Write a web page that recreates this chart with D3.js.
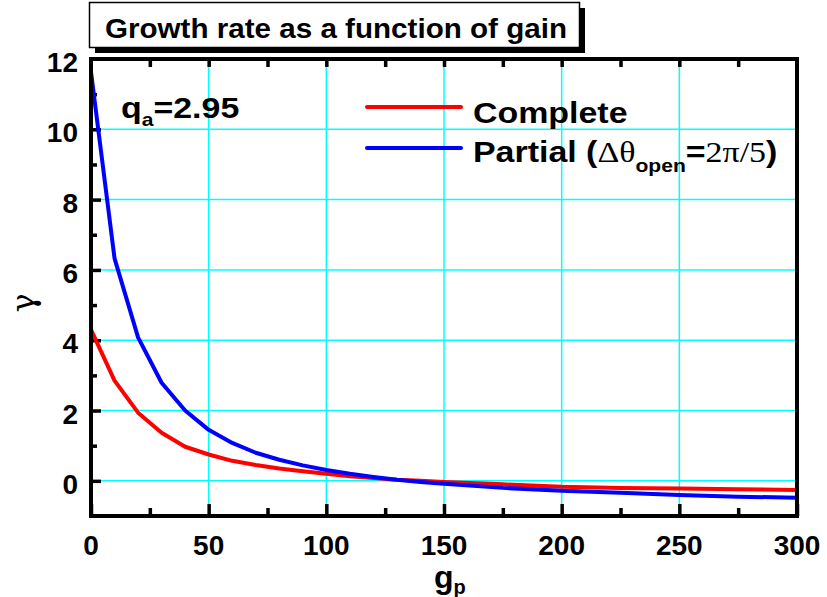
<!DOCTYPE html>
<html>
<head>
<meta charset="utf-8">
<script src="https://cdn.jsdelivr.net/npm/d3@7"></script>
<style>
  body { margin: 0; background: #fff; }
  text { font-family: "Liberation Sans", Arial, sans-serif; font-weight: bold; fill: #000; }
</style>
</head>
<body>
<svg width="827" height="597"></svg>
<script>
const gp = [0, 10, 20, 30, 40, 50, 60, 70, 80, 90, 100, 110, 120, 130, 140, 150, 175, 200, 225, 250, 275, 300];
const complete = [4.3, 2.85, 1.94, 1.37, 0.97, 0.75, 0.57, 0.45, 0.35, 0.27, 0.2, 0.13, 0.08, 0.03, 0.0, -0.03, -0.1, -0.17, -0.2, -0.22, -0.24, -0.26];
const partial = [11.63, 6.33, 4.08, 2.79, 2.0, 1.45, 1.08, 0.8, 0.6, 0.44, 0.31, 0.2, 0.11, 0.03, -0.03, -0.08, -0.2, -0.28, -0.34, -0.4, -0.45, -0.48];
const xTicks = [0, 50, 100, 150, 200, 250, 300];
const yTicks = [0, 2, 4, 6, 8, 10, 12];

const margin = { top: 59, right: 30, bottom: 81, left: 91 },
      width = 797 - margin.left,
      height = 516 - margin.top;

const svg = d3.select("svg");
const g = svg.append("g").attr("transform", `translate(${margin.left},${margin.top})`);

const x = d3.scaleLinear().domain([0, 300]).range([0, width]);
const y = d3.scaleLinear().domain([-1, 12]).range([height, 0]);

// grid
g.selectAll(".vgrid").data([50, 100, 150, 200, 250]).enter().append("line")
  .attr("x1", d => x(d)).attr("x2", d => x(d)).attr("y1", 0).attr("y2", height)
  .attr("stroke", "#00ffff").attr("stroke-width", 1.5);
g.selectAll(".hgrid").data([0, 2, 4, 6, 8, 10]).enter().append("line")
  .attr("x1", 0).attr("x2", width).attr("y1", d => y(d)).attr("y2", d => y(d))
  .attr("stroke", "#00ffff").attr("stroke-width", 1.5);

// ticks
const bottomAxis = g.append("g").attr("transform", `translate(0,${height})`)
  .call(d3.axisBottom(x).tickValues(d3.range(0, 301, 25)).tickSize(0).tickFormat(""));
bottomAxis.select(".domain").remove();
bottomAxis.selectAll(".tick line").attr("y2", d => d % 50 === 0 ? -12 : -8)
  .attr("stroke", "#000").attr("stroke-width", 3.5);

const topAxis = g.append("g")
  .call(d3.axisTop(x).tickValues(d3.range(25, 300, 25)).tickSize(0).tickFormat(""));
topAxis.select(".domain").remove();
topAxis.selectAll(".tick line").attr("y2", 8).attr("stroke", "#000").attr("stroke-width", 3.5);

const leftAxis = g.append("g")
  .call(d3.axisLeft(y).tickValues(d3.range(0, 12, 1)).tickSize(0).tickFormat(""));
leftAxis.select(".domain").remove();
leftAxis.selectAll(".tick line").attr("x2", d => d % 2 === 0 ? 10 : 6)
  .attr("stroke", "#000").attr("stroke-width", 3.5);

// tick labels
g.selectAll(".xl").data(xTicks).enter().append("text")
  .attr("x", d => x(d)).attr("y", 555 - margin.top)
  .attr("text-anchor", "middle").attr("font-size", 28).text(d => d);
g.selectAll(".yl").data(yTicks).enter().append("text")
  .attr("x", -13).attr("y", d => y(d) + 13)
  .attr("text-anchor", "end").attr("font-size", 28).text(d => d);

// curves
const line = d3.line().x((d, i) => x(gp[i])).y(d => y(d));
g.append("path").datum(complete).attr("d", line)
  .attr("fill", "none").attr("stroke", "#ff0000").attr("stroke-width", 4).attr("stroke-linejoin", "round");
g.append("path").datum(partial).attr("d", line)
  .attr("fill", "none").attr("stroke", "#0000ff").attr("stroke-width", 4).attr("stroke-linejoin", "round");

// frame
g.append("rect").attr("x", 0).attr("y", 0).attr("width", width).attr("height", height)
  .attr("fill", "none").attr("stroke", "#000").attr("stroke-width", 4);

// axis titles
svg.append("text").attr("transform", "translate(34,303) rotate(-90)")
  .attr("text-anchor", "middle").attr("font-size", 32)
  .style("font-family", "'DejaVu Serif', serif").style("font-weight", "normal").text("γ");
const xt = svg.append("text").attr("x", 434).attr("y", 588).attr("font-size", 32);
xt.append("tspan").text("g");
xt.append("tspan").attr("font-size", 20).attr("dy", 6).text("p");

// annotation
const qa = svg.append("g").attr("transform", "translate(121,118) scale(1.17,1)")
  .append("text").attr("font-size", 29);
qa.append("tspan").text("q");
qa.append("tspan").attr("font-size", 18).attr("dy", 8).text("a");
qa.append("tspan").attr("dy", -8).text("=2.95");

// legend
const legend = [
  { color: "#ff0000", y: 107 },
  { color: "#0000ff", y: 148 }
];
svg.selectAll(".lg").data(legend).enter().append("line")
  .attr("x1", 367).attr("x2", 461).attr("y1", d => d.y).attr("y2", d => d.y)
  .attr("stroke", d => d.color).attr("stroke-width", 4).attr("stroke-linecap", "round");
svg.append("g").attr("transform", "translate(473,123) scale(1.17,1)")
  .append("text").attr("font-size", 29).text("Complete");
const pl = svg.append("g").attr("transform", "translate(473,162) scale(1.17,1)")
  .append("text").attr("font-size", 29);
pl.append("tspan").text("Partial (");
pl.append("tspan").style("font-family", "'Liberation Serif', serif").style("font-weight", "normal").text("Δθ");
pl.append("tspan").attr("font-size", 18).attr("dy", 10).text("open");
pl.append("tspan").attr("dy", -10).text("=");
pl.append("tspan").style("font-family", "'Liberation Serif', serif").style("font-weight", "normal").text("2π/5");
pl.append("tspan").text(")");

// title box with shadow
svg.append("rect").attr("x", 95).attr("y", 8).attr("width", 490).attr("height", 45).attr("fill", "#000");
svg.append("rect").attr("x", 89.5).attr("y", 2.5).attr("width", 490).attr("height", 45)
  .attr("fill", "#fff").attr("stroke", "#000").attr("stroke-width", 1.5);
svg.append("text").attr("x", 105).attr("y", 38).attr("font-size", 27)
  .attr("textLength", 462).attr("lengthAdjust", "spacingAndGlyphs")
  .text("Growth rate as a function of gain");
</script>
</body>
</html>
